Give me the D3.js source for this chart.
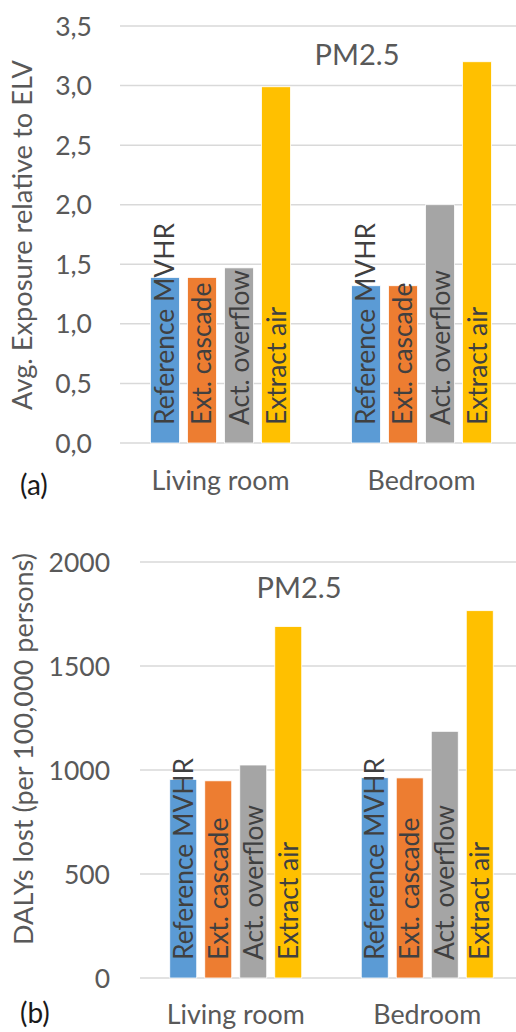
<!DOCTYPE html>
<html>
<head>
<meta charset="utf-8">
<script src="https://cdn.jsdelivr.net/npm/d3@7"></script>
<style>
  html, body { margin: 0; padding: 0; background: #fff; }
  svg { display: block; font-family: Lato, "Noto Sans", sans-serif; }
</style>
</head>
<body>
<svg id="chart" width="516" height="1032"></svg>
<script>
const categories = ["Living room", "Bedroom"];
const seriesNames = ["Reference MVHR", "Ext. cascade", "Act. overflow", "Extract air"];
const seriesColors = ["#5B9BD5", "#ED7D31", "#A5A5A5", "#FFC000"];

// (a) Avg. exposure relative to ELV, per category, per series
const exposureLiving = [1.39, 1.39, 1.47, 2.99];
const exposureBedroom = [1.32, 1.32, 2.00, 3.20];
const exposureTicks = [0, 0.5, 1.0, 1.5, 2.0, 2.5, 3.0, 3.5];

// (b) DALYs lost per 100,000 persons
const dalysLiving = [955, 948, 1024, 1690];
const dalysBedroom = [963, 962, 1186, 1766];
const dalysTicks = [0, 500, 1000, 1500, 2000];

const svg = d3.select("#chart");
const textColor = "#595959";

// font size that makes `str` about `target` px wide (substitute for the original Calibri)
function sizeFor(str, target) {
  const t = svg.append("text").attr("font-size", 100).text(str);
  const w = t.node().getComputedTextLength();
  t.remove();
  return Math.min(30, 100 * target / w);
}
const fsTick = 26.5;
const fsBar = sizeFor("Reference MVHR", 202);
const fsCat = sizeFor("Living room", 138);
const fsTitle = sizeFor("PM2.5", 85);
const fsLetter = 28;

function drawPanel(cfg) {
  const g = svg.append("g");
  const y = d3.scaleLinear().domain(cfg.domain).range([cfg.y0, cfg.y1]);
  const x0 = d3.scaleBand().domain(categories).range([cfg.xL, cfg.xR]).paddingInner(0).paddingOuter(0);
  const x1 = d3.scaleBand().domain(seriesNames).range([0, x0.bandwidth()])
    .paddingInner(cfg.pi).paddingOuter(cfg.po);

  // gridlines
  g.append("g").selectAll("line").data(cfg.ticks).join("line")
    .attr("x1", cfg.xL).attr("x2", 530)
    .attr("y1", d => y(d)).attr("y2", d => y(d))
    .attr("stroke", "#D9D9D9").attr("stroke-width", 1.5);

  // tick labels
  g.append("g").selectAll("text").data(cfg.ticks).join("text")
    .attr("x", cfg.tickX).attr("y", d => y(d))
    .attr("dy", "0.36em")
    .attr("text-anchor", "end")
    .attr("fill", textColor).attr("font-size", fsTick)
    .text(cfg.fmt);

  const rows = categories.map((c, i) => ({ cat: c, vals: cfg.data[i] }));
  const groups = g.append("g").selectAll("g").data(rows).join("g")
    .attr("transform", d => `translate(${x0(d.cat)},0)`);

  groups.selectAll("rect").data(d => d.vals.map((v, j) => ({ s: seriesNames[j], v, j })))
    .join("rect")
    .attr("x", d => x1(d.s)).attr("width", x1.bandwidth())
    .attr("y", d => y(d.v)).attr("height", d => y(0) - y(d.v))
    .attr("fill", d => seriesColors[d.j])
    .attr("stroke", "#fff").attr("stroke-width", 0.8);

  groups.selectAll("text.bl").data(d => d.vals.map((v, j) => ({ s: seriesNames[j], v, j })))
    .join("text").attr("class", "bl")
    .attr("transform", d => `translate(${x1(d.s) + x1.bandwidth() / 2 + 9.5},${y(0) - 18}) rotate(-90)`)
    .attr("text-anchor", "start")
    .attr("fill", "#404040").attr("font-size", fsBar)
    .text(d => d.s);

  // category labels
  g.append("g").selectAll("text").data(categories).join("text")
    .attr("x", d => x0(d) + x0.bandwidth() / 2).attr("y", cfg.catY)
    .attr("text-anchor", "middle").attr("fill", textColor).attr("font-size", fsCat)
    .text(d => d);

  // title
  g.append("text").attr("x", cfg.titleX).attr("y", cfg.titleY)
    .attr("text-anchor", "middle").attr("fill", textColor).attr("font-size", fsTitle)
    .text("PM2.5");

  // y axis title
  g.append("text")
    .attr("transform", `translate(${cfg.ytX},${cfg.ytY}) rotate(-90)`)
    .attr("text-anchor", "middle").attr("fill", textColor)
    .attr("font-size", sizeFor(cfg.yTitle, cfg.ytLen))
    .text(cfg.yTitle);

  // panel letter
  g.append("text").attr("x", 20).attr("y", cfg.letterY)
    .attr("fill", "#1a1a1a").attr("font-size", fsLetter)
    .text(cfg.letter);
}

const fmtComma = d => d3.format(".1f")(d).replace(".", ",");

drawPanel({
  domain: [0, 3.5], y0: 443, y1: 26, xL: 120, xR: 522, pi: 0.216, po: 0.824,
  ticks: exposureTicks, fmt: fmtComma, tickX: 92,
  data: [exposureLiving, exposureBedroom],
  catY: 490, titleX: 357, titleY: 65,
  ytX: 32, ytY: 235, ytLen: 350, yTitle: "Avg. Exposure relative to ELV",
  letter: "(a)", letterY: 495
});

drawPanel({
  domain: [0, 2000], y0: 978, y1: 562, xL: 140, xR: 523, pi: 0.229, po: 0.85,
  ticks: dalysTicks, fmt: d => String(d), tickX: 110,
  data: [dalysLiving, dalysBedroom],
  catY: 1024, titleX: 299, titleY: 598,
  ytX: 33, ytY: 749, ytLen: 392, yTitle: "DALYs lost (per 100,000 persons)",
  letter: "(b)", letterY: 1023
});
</script>
</body>
</html>
